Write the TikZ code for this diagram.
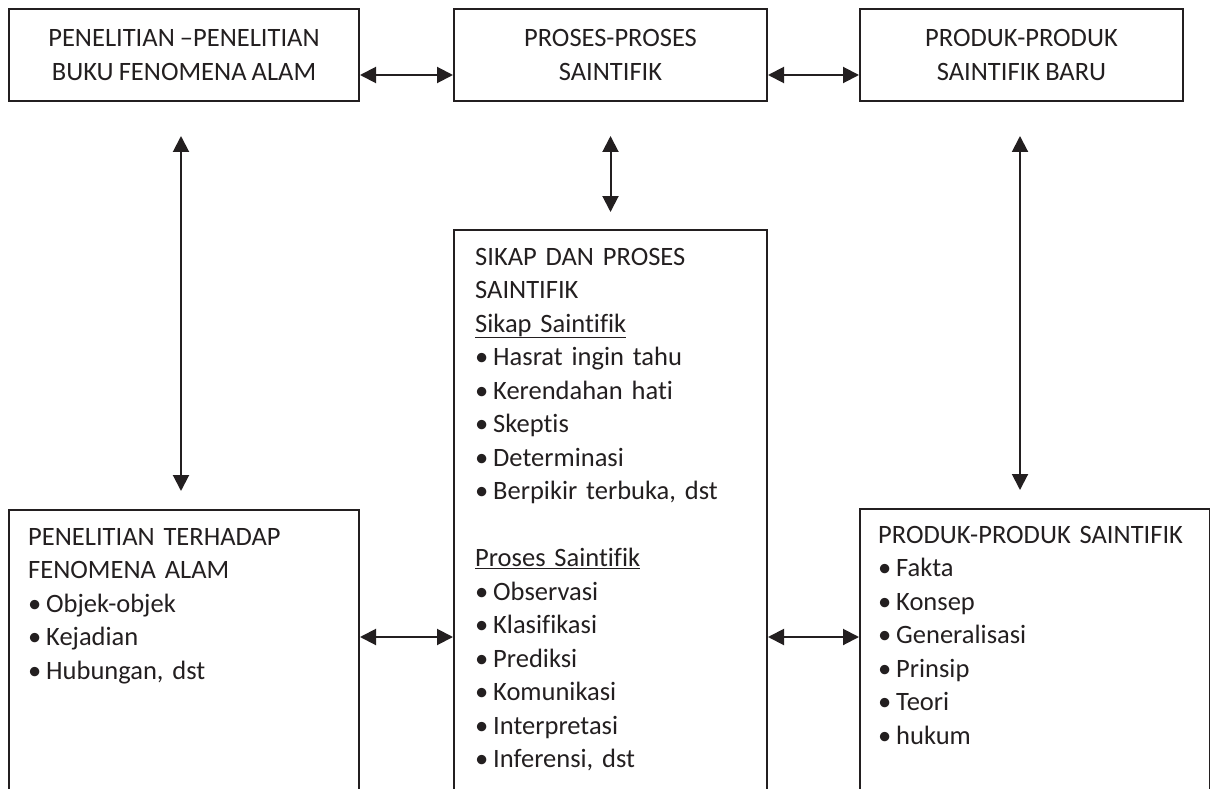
\documentclass[tikz,border=0pt]{standalone}
\usepackage{fontspec}
\setmainfont{Carlito}[RawFeature=-liga, WordSpace=0.85]
\usetikzlibrary{arrows.meta}
\definecolor{ink}{HTML}{231F20}
\newcommand{\bul}[1]{\makebox[18pt][l]{\textbullet}#1}
\begin{document}
\begin{tikzpicture}[x=1pt, y=-1pt,
  every node/.style={font=\fontsize{26.5}{33.5}\selectfont, text=ink},
  box/.style={draw=ink, line width=2pt, inner sep=0pt, anchor=north west},
  txt/.style={inner sep=0pt, anchor=base west, align=left, text width=#1},
  txt/.default=290pt,
  link/.style={{Triangle[length=16pt,width=16pt]}-{Triangle[length=16pt,width=16pt]}, line width=2pt, draw=ink}]
\useasboundingbox (0,0) rectangle (1210,789);
\clip (0,0) rectangle (1210,789);
\node [box, minimum width=350pt, minimum height=92pt, align=center] (penelitian) at (8,8) {PENELITIAN –PENELITIAN\\BUKU FENOMENA ALAM};
\node [box, minimum width=313pt, minimum height=92pt, align=center] (proses) at (453,8) {PROSES-PROSES\\SAINTIFIK};
\node [box, minimum width=323pt, minimum height=92pt, align=center] (baru) at (859,8) {PRODUK-PRODUK\\SAINTIFIK BARU};
\node [box, minimum width=350pt, minimum height=400pt] (terhadap) at (8,509) {};
\node [box, minimum width=313pt, minimum height=640pt] (sikap) at (453,229) {};
\node [box, minimum width=350pt, minimum height=400pt] (produk) at (859,508) {};
\node [txt=320pt] (terhadaptxt) at (28,545) {PENELITIAN TERHADAP\\FENOMENA ALAM\\\bul{Objek-objek}\\\bul{Kejadian}\\\bul{Hubungan, dst}};
\node [txt] (sikaptxt) at (475,265) {SIKAP DAN PROSES\\SAINTIFIK\\\underline{Sikap Saintifik}\\\bul{Hasrat ingin tahu}\\\bul{Kerendahan hati}\\\bul{Skeptis}\\\bul{Determinasi}\\\bul{Berpikir terbuka, dst}\\[33.5pt]\underline{Proses Saintifik}\\\bul{Observasi}\\\bul{Klasifikasi}\\\bul{Prediksi}\\\bul{Komunikasi}\\\bul{Interpretasi}\\\bul{Inferensi, dst}};
\node [txt=320pt] (produktxt) at (878,543) {PRODUK-PRODUK SAINTIFIK\\\bul{Fakta}\\\bul{Konsep}\\\bul{Generalisasi}\\\bul{Prinsip}\\\bul{Teori}\\\bul{hukum}};
\draw [link] ([yshift=-20pt]penelitian.east) -- ([yshift=-20pt]proses.west);
\draw [link] ([yshift=-20pt]proses.east) -- ([yshift=-20pt]baru.west);
\draw [link] ([yshift=-128pt]terhadap.north east) -- ([yshift=-128pt]terhadap.north east -| sikap.west);
\draw [link] ([yshift=-128pt]terhadap.north east -| sikap.east) -- ([yshift=-128pt]terhadap.north east -| produk.west);
\coordinate (l1) at ([xshift=-3pt,yshift=-34pt]penelitian.south);
\coordinate (l2) at ([yshift=18pt]terhadap.north -| l1);
\coordinate (m1) at ([yshift=-34pt]proses.south);
\coordinate (m2) at ([yshift=17pt]sikap.north -| m1);
\coordinate (r1) at ([xshift=-1.5pt,yshift=-34pt]baru.south);
\coordinate (r2) at ([yshift=18pt]produk.north -| r1);
\draw [link] (l1) -- (l2);
\draw [link] (m1) -- (m2);
\draw [link] (r1) -- (r2);
\end{tikzpicture}
\end{document}
